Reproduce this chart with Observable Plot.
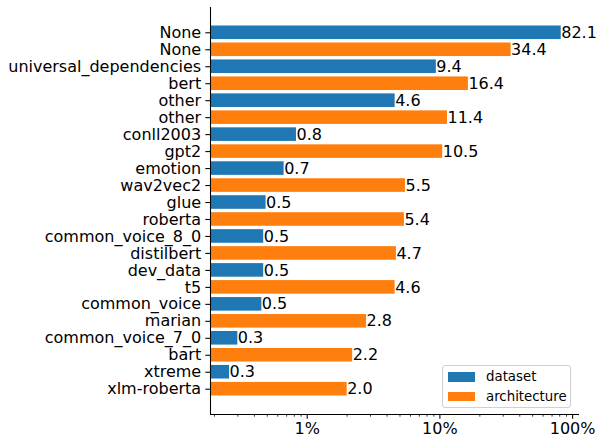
<!DOCTYPE html>
<html>
<head>
<meta charset="utf-8">
<script src="https://cdn.jsdelivr.net/npm/d3@7"></script>
<script src="https://cdn.jsdelivr.net/npm/@observablehq/plot@0.6"></script>
<style>
  html, body { margin: 0; padding: 0; background: #fff; }
  #wrap { position: relative; width: 596px; height: 441px; font-family: "DejaVu Sans", sans-serif; }
  #legend {
    position: absolute; left: 442px; top: 365px; width: 127px; height: 41px;
    border: 1px solid #d0d0d0; border-radius: 3px; background: rgba(255,255,255,0.8);
    font-size: 13.33px; line-height: 16px; color: #000;
  }
  .item { position: absolute; left: 5px; display: flex; align-items: center; white-space: nowrap; }
  .sw { width: 27px; height: 9.3px; margin-right: 11px; }
</style>
</head>
<body>
<div id="wrap"><div id="legend"></div></div>
<script>
const labels = ["None","None","universal_dependencies","bert","other","other","conll2003","gpt2",
  "emotion","wav2vec2","glue","roberta","common_voice_8_0","distilbert","dev_data","t5",
  "common_voice","marian","common_voice_7_0","bart","xtreme","xlm-roberta"];
const values = [82.1, 34.4, 9.4, 16.4, 4.6, 11.4, 0.83, 10.5, 0.67, 5.5, 0.49, 5.4,
  0.47, 4.7, 0.47, 4.6, 0.455, 2.8, 0.30, 2.2, 0.26, 2.0];
const kinds = ["dataset","architecture"];
const colors = ["#1f77b4", "#ff7f0e"];
const majorTicks = [1, 10, 100];
const minorTicks = [0.2,0.3,0.4,0.5,0.6,0.7,0.8,0.9,2,3,4,5,6,7,8,9,20,30,40,50,60,70,80,90];
const xDomain = [0.1867, 110.8];

const rows = labels.map((name, i) => ({i, name, value: values[i], kind: kinds[i % 2]}));
const n = rows.length;

const chart = Plot.plot({
  width: 596, height: 441,
  marginLeft: 210, marginRight: 18, marginTop: 7, marginBottom: 27,
  style: {fontFamily: "DejaVu Sans, sans-serif", fontSize: "16px", color: "#000", background: "transparent"},
  x: {type: "log", domain: xDomain, axis: null},
  y: {type: "band", domain: d3.range(n), paddingInner: 0.2, paddingOuter: 1.09, round: false, axis: null},
  color: {domain: kinds, range: colors},
  marks: [
    Plot.barX(rows, {x1: () => xDomain[0], x2: "value", y: "i", fill: "kind", clip: true}),
    Plot.text(rows, {x: "value", y: "i", text: d => d.value.toFixed(1), textAnchor: "start", fill: "#000", fontSize: 16}),
    Plot.axisY({label: null, tickSize: 4.67, tickPadding: 4.67, tickFormat: i => labels[i], fontSize: 16, strokeWidth: 1.07}),
    Plot.axisX(minorTicks, {label: null, tickSize: 2.67, tickFormat: () => "", strokeWidth: 0.8}),
    Plot.axisX(majorTicks, {label: null, tickSize: 4.67, tickPadding: 3.5, tickFormat: d => d + "%", fontSize: 16, strokeWidth: 1.07}),
    Plot.frame({anchor: "left", stroke: "#000", strokeWidth: 1.07}),
    Plot.frame({anchor: "bottom", stroke: "#000", strokeWidth: 1.07})
  ]
});
document.getElementById("wrap").prepend(chart);

const legend = document.getElementById("legend");
kinds.forEach((k, j) => {
  const it = document.createElement("div");
  it.className = "item";
  it.style.top = (j === 0 ? 3 : 22.5) + "px";
  const sw = document.createElement("div");
  sw.className = "sw";
  sw.style.background = colors[j];
  const tx = document.createElement("span");
  tx.textContent = k;
  it.append(sw, tx);
  legend.append(it);
});
</script>
</body>
</html>
